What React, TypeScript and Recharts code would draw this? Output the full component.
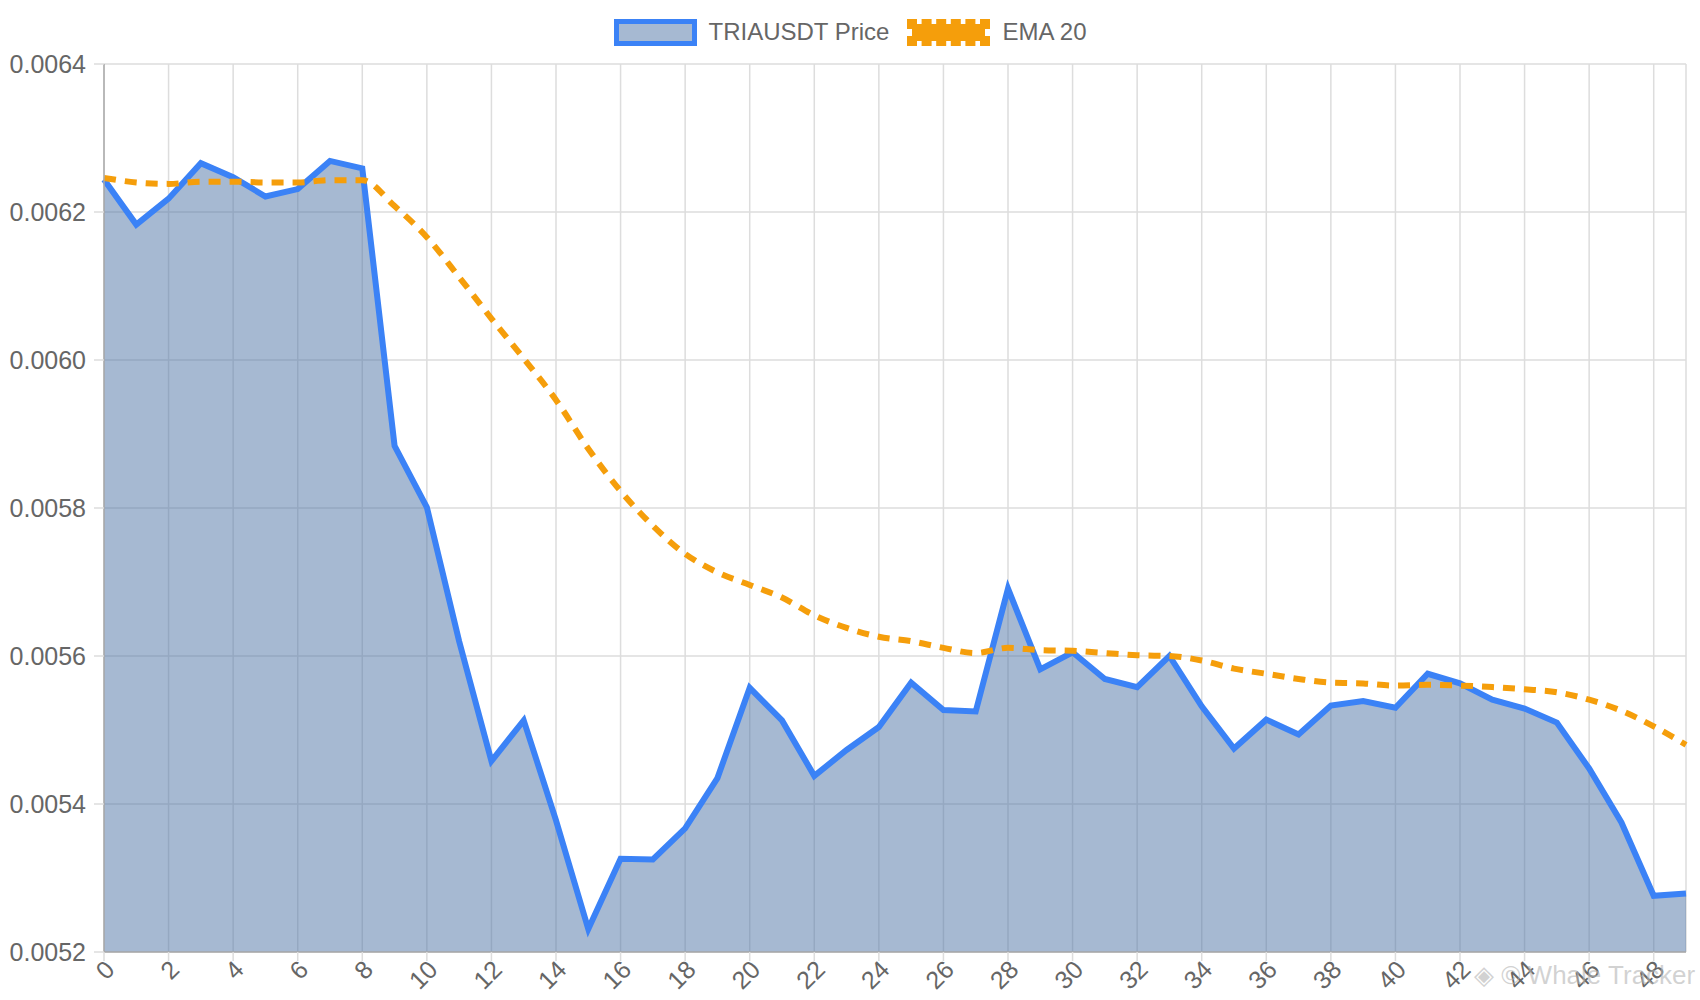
import React from 'react';
import { ComposedChart, Area, Line, XAxis, YAxis, CartesianGrid } from 'recharts';

const categories = [
    0, 1, 2, 3, 4, 5, 6, 7, 8, 9, 10, 11, 12, 13, 14, 15, 16, 17, 18, 19, 20, 21, 22, 23, 24,
    25, 26, 27, 28, 29, 30, 31, 32, 33, 34, 35, 36, 37, 38, 39, 40, 41, 42, 43, 44, 45, 46, 47, 48, 49,
];

const priceValues = [
    0.006244, 0.006183, 0.006218, 0.006266, 0.006247, 0.006221, 0.006231, 0.006269, 0.006259, 0.005884,
    0.005801, 0.00562, 0.005458, 0.005513, 0.005378, 0.005231, 0.005326, 0.005325, 0.005367, 0.005435,
    0.005557, 0.005513, 0.005438, 0.005473, 0.005504, 0.005564, 0.005527, 0.005525, 0.005691, 0.005582,
    0.005605, 0.005569, 0.005558, 0.0056, 0.005532, 0.005475, 0.005514, 0.005494, 0.005533, 0.005539,
    0.00553, 0.005576, 0.005563, 0.005541, 0.005529, 0.00551, 0.005448, 0.005375, 0.005276, 0.005279,
];

const emaValues = [
    0.006246, 0.00624, 0.006238, 0.006241, 0.006241, 0.00624, 0.00624, 0.006243, 0.006243, 0.006208,
    0.006166, 0.006112, 0.006056, 0.006002, 0.005946, 0.00588, 0.005823, 0.005776, 0.005738, 0.005713,
    0.005696, 0.005679, 0.005655, 0.005638, 0.005626, 0.00562, 0.005611, 0.005604, 0.005611, 0.005608,
    0.005607, 0.005604, 0.005601, 0.0056, 0.005594, 0.005583, 0.005576, 0.005569, 0.005564, 0.005563,
    0.00556, 0.005561, 0.00556, 0.005558, 0.005555, 0.005551, 0.005541, 0.005526, 0.005505, 0.00548,
];

const yTicks = [0.0052, 0.0054, 0.0056, 0.0058, 0.006, 0.0062, 0.0064];

const seriesNames = ['TRIAUSDT Price', 'EMA 20'];

const data = categories.map((c, i) => ({ idx: c, price: priceValues[i], ema: emaValues[i] }));

const FONT = '"Liberation Sans", Arial, Helvetica, sans-serif';
const TEXT = '#666666';
const GRID = '#dddddd';
const BLUE = '#3b82f6';
const ORANGE = '#f59e0b';

const XTick = (props: any) => {
    const { x, y, payload } = props;
    return (
        <g transform={`translate(${x + 6},${y + 2}) rotate(-45)`}>
            <text x={0} y={0} dy="0.35em" textAnchor="end" fill={TEXT} fontSize={25} fontFamily={FONT}>
                {payload.value}
            </text>
        </g>
    );
};

const Legend = () => (
    <div
        style={{
            position: 'absolute',
            top: 18,
            left: 0,
            width: 1700,
            display: 'flex',
            justifyContent: 'center',
            alignItems: 'center',
            fontFamily: FONT,
            fontSize: 24,
            color: TEXT,
        }}
    >
        <div style={{ width: 83, height: 27, boxSizing: 'border-box', border: `5px solid ${BLUE}`, background: '#a6b9d2' }} />
        <span style={{ marginLeft: 12, marginRight: 18 }}>{seriesNames[0]}</span>
        <div
            style={{
                width: 83,
                height: 27,
                boxSizing: 'border-box',
                border: `5px dashed ${ORANGE}`,
                background: ORANGE,
                backgroundClip: 'padding-box',
            }}
        />
        <span style={{ marginLeft: 12 }}>{seriesNames[1]}</span>
    </div>
);

export default function App() {
    return (
        <div style={{ position: 'absolute', left: 0, top: 0, width: 1700, height: 1000, background: '#fff' }}>
            <Legend />
            <ComposedChart
                width={1700}
                height={1000}
                data={data}
                margin={{ top: 64, right: 14, bottom: 0, left: 0 }}
            >
                <CartesianGrid stroke={GRID} strokeWidth={1.5} />
                <XAxis
                    dataKey="idx"
                    interval={1}
                    height={48}
                    tick={<XTick />}
                    tickSize={9}
                    tickLine={{ stroke: GRID, strokeWidth: 1.5 }}
                    axisLine={{ stroke: '#aaaaaa', strokeWidth: 1.5 }}
                />
                <YAxis
                    type="number"
                    domain={[0.0052, 0.0064]}
                    ticks={yTicks}
                    width={104}
                    tickSize={10}
                    tickMargin={8}
                    tickFormatter={(v: number) => v.toFixed(4)}
                    tick={{ fill: TEXT, fontSize: 25, fontFamily: FONT }}
                    tickLine={{ stroke: GRID, strokeWidth: 1.5 }}
                    axisLine={{ stroke: '#aaaaaa', strokeWidth: 1.5 }}
                />
                <Area
                    type="linear"
                    dataKey="price"
                    name={seriesNames[0]}
                    stroke={BLUE}
                    strokeWidth={6}
                    fill="#4d73a5"
                    fillOpacity={0.5}
                    dot={false}
                    activeDot={false}
                    isAnimationActive={false}
                />
                <Line
                    type="monotone"
                    dataKey="ema"
                    name={seriesNames[1]}
                    stroke={ORANGE}
                    strokeWidth={6}
                    strokeDasharray="12 9"
                    dot={false}
                    activeDot={false}
                    isAnimationActive={false}
                />
            </ComposedChart>
            <div
                style={{
                    position: 'absolute',
                    left: 1474,
                    top: 960,
                    fontFamily: FONT,
                    fontSize: 26,
                    color: 'rgba(180,180,180,0.6)',
                    whiteSpace: 'nowrap',
                }}
            >
                ◈ © Whale Tracker
            </div>
        </div>
    );
}
